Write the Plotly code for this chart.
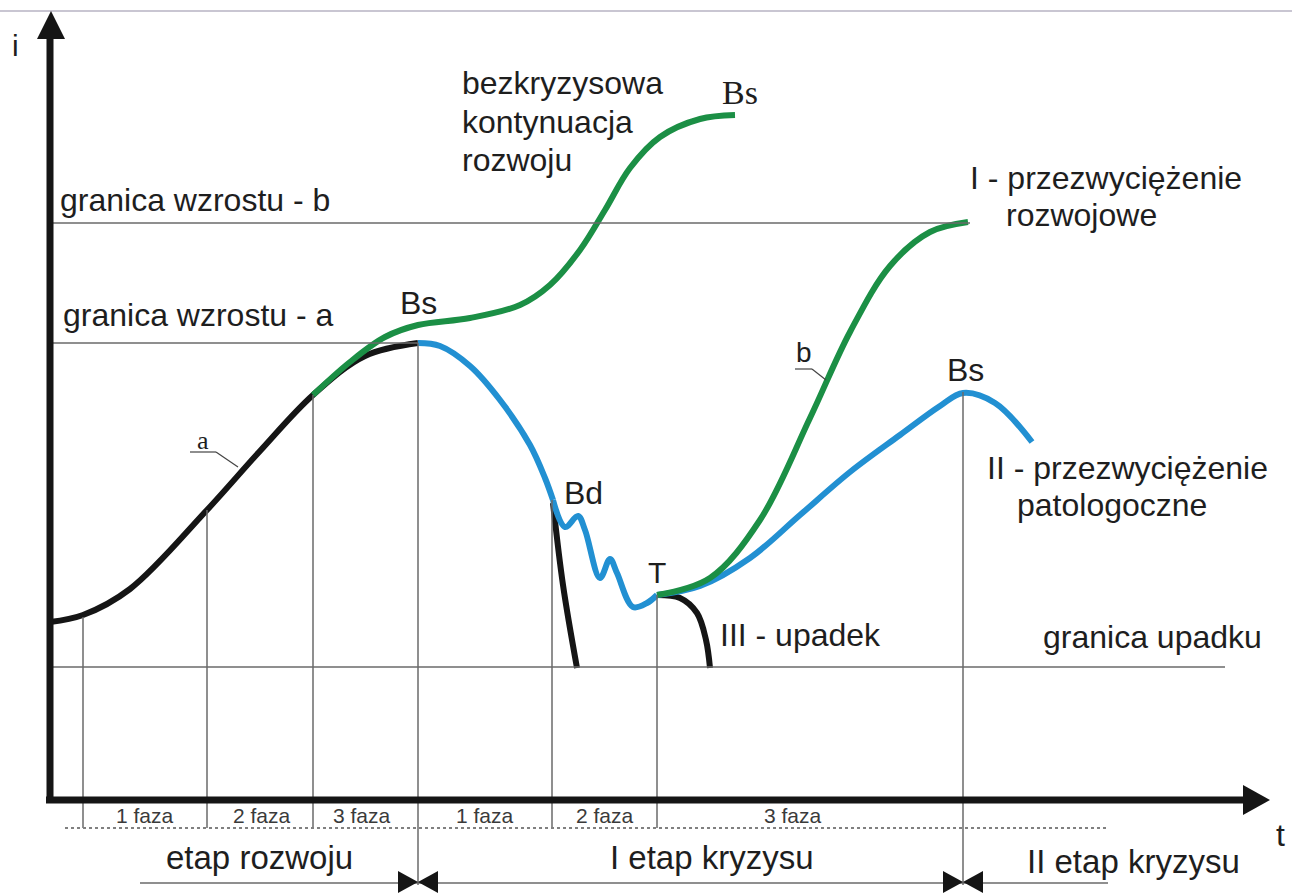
import plotly.graph_objects as go

W, H = 1292, 893

# ---- curves (picture coordinates) ----
a_x = [50, 83, 130, 207, 260, 313, 365, 418]
a_y = [622, 615, 589, 510, 451, 395, 356, 343]

cont_x = [313, 350, 385, 418, 470, 520, 550, 580, 605, 630, 660, 700, 735]
cont_y = [395, 362, 337, 325, 318, 305, 285, 250, 210, 168, 137, 119, 115]

fall_x = [418, 440, 470, 500, 530, 545, 553]
fall_y = [343, 346, 366, 400, 445, 478, 500]

wig_x = [553, 565, 578, 585, 600, 610, 617, 633, 647, 657]
wig_y = [500, 527, 516, 530, 578, 559, 573, 607, 603, 595]

bd_x = [553, 563, 577]
bd_y = [503, 585, 668]

up_x = [657, 680, 697, 706, 710]
up_y = [595, 598, 613, 640, 668]

g1_x = [657, 710, 760, 810, 850, 890, 930, 968]
g1_y = [595, 578, 520, 418, 332, 266, 232, 222]

b2_x = [657, 700, 750, 800, 850, 900, 940, 963, 995, 1032]
b2_y = [595, 586, 558, 515, 472, 435, 406, 393, 403, 442]

# ---- reference lines ----
level_names = ["granica wzrostu - b", "granica wzrostu - a", "granica upadku"]
level_y = [223, 343, 667]
level_x_end = [970, 418, 1225]

phase_x = [83, 207, 313, 418, 552, 657, 963]
phase_top = [617, 510, 395, 343, 500, 595, 392]
phase_bottom = [828, 828, 828, 885, 828, 828, 885]
phase_labels = ["1 faza", "2 faza", "3 faza", "1 faza", "2 faza", "3 faza"]
phase_label_x = [145, 262, 362, 485, 605, 793]

stage_labels = ["etap rozwoju", "I etap kryzysu", "II etap kryzysu"]
stage_x = [259, 712, 1133]
stage_y = [857, 857, 861]
bowtie_x = [418, 963]

BLACK = "#151515"
GREEN = "#1b8f45"
BLUE = "#2290d2"
GRAY = "#6a6a6a"
TXT = "#1e1e1e"
SANS = "Liberation Sans, Arial, sans-serif"
SERIF = "Liberation Serif, Times New Roman, serif"

fig = go.Figure()


def curve(x, y, color, w=6):
    fig.add_trace(go.Scatter(x=x, y=y, mode="lines", line=dict(color=color, width=w, shape="spline", smoothing=1.0),
                             hoverinfo="skip", showlegend=False))


shapes = []
shapes.append(dict(type="line", x0=0, x1=W, y0=11, y1=11, line=dict(color="#c9c6d2", width=2)))
for y, xe in zip(level_y, level_x_end):
    shapes.append(dict(type="line", x0=50, x1=xe, y0=y, y1=y, line=dict(color=GRAY, width=1.5)))
for x, t, b in zip(phase_x, phase_top, phase_bottom):
    shapes.append(dict(type="line", x0=x, x1=x, y0=t, y1=b, line=dict(color=GRAY, width=1.5)))
shapes.append(dict(type="line", x0=65, x1=1107, y0=828, y1=828, line=dict(color="#808080", width=2, dash="dot")))
shapes.append(dict(type="line", x0=140, x1=1108, y0=883, y1=883, line=dict(color=GRAY, width=1.5)))
for bx in bowtie_x:
    shapes.append(dict(type="path", path=f"M {bx-20} 871 L {bx} 882 L {bx-20} 893 Z", fillcolor=BLACK, line=dict(width=0)))
    shapes.append(dict(type="path", path=f"M {bx+20} 871 L {bx} 882 L {bx+20} 893 Z", fillcolor=BLACK, line=dict(width=0)))
shapes.append(dict(type="line", x0=50, x1=50, y0=803, y1=30, line=dict(color=BLACK, width=7)))
shapes.append(dict(type="line", x0=46, x1=1250, y0=800, y1=800, line=dict(color=BLACK, width=7)))
shapes.append(dict(type="path", path="M 37 39 L 51 11 L 65 39 Z", fillcolor=BLACK, line=dict(width=0)))
shapes.append(dict(type="path", path="M 1243 785 L 1270 800 L 1243 815 Z", fillcolor=BLACK, line=dict(width=0)))
shapes.append(dict(type="line", x0=190, x1=216, y0=452, y1=452, line=dict(color="#444", width=1.2)))
shapes.append(dict(type="line", x0=216, x1=238, y0=452, y1=467, line=dict(color="#444", width=1.2)))
shapes.append(dict(type="line", x0=795, x1=812, y0=369, y1=369, line=dict(color="#444", width=1.2)))
shapes.append(dict(type="line", x0=812, x1=826, y0=369, y1=380, line=dict(color="#444", width=1.2)))

curve(a_x, a_y, BLACK)
curve(cont_x, cont_y, GREEN)
curve(fall_x, fall_y, BLUE)
curve(bd_x, bd_y, BLACK)
curve(wig_x, wig_y, BLUE)
curve(up_x, up_y, BLACK)
curve(b2_x, b2_y, BLUE)
curve(g1_x, g1_y, GREEN)

ann = []


def txt(s, x, y, size=32, xa="left", fam=SANS, color=TXT):
    ann.append(dict(text=s, x=x, y=y, xref="x", yref="y", showarrow=False, xanchor=xa, yanchor="middle",
                    font=dict(family=fam, size=size, color=color)))


txt("i", 15, 45, 30, "center")
txt("t", 1280, 835, 32, "center")
txt(level_names[0], 58, 200)
txt(level_names[1], 61, 315)
txt(level_names[2], 1041, 637)
txt("Bs", 418, 303, 32, "center")
txt("bezkryzysowa", 460, 83)
txt("kontynuacja", 460, 122)
txt("rozwoju", 460, 160)
txt("Bs", 740, 92, 34, "center", SERIF)
txt("I - przezwyciężenie", 968, 178)
txt("rozwojowe", 1004, 215)
txt("b", 804, 352, 28, "center")
txt("Bs", 965, 370, 32, "center")
txt("II - przezwyciężenie", 985, 468)
txt("patologoczne", 1015, 505)
txt("Bd", 562, 493)
txt("T", 657, 572, 30, "center")
txt("III - upadek", 718, 635)
txt("a", 203, 440, 26, "center", SERIF)
for s, x in zip(phase_labels, phase_label_x):
    txt(s, x, 815, 21, "center", SANS, "#3a3a3a")
for s, x, y in zip(stage_labels, stage_x, stage_y):
    txt(s, x, y, 33, "center")

fig.update_layout(
    width=W, height=H, margin=dict(l=0, r=0, t=0, b=0),
    paper_bgcolor="white", plot_bgcolor="white",
    xaxis=dict(range=[0, W], visible=False, fixedrange=True),
    yaxis=dict(range=[H, 0], visible=False, fixedrange=True),
    shapes=shapes, annotations=ann, showlegend=False,
)
fig.write_html("out.html", config={"displayModeBar": False},
               post_script="document.body.style.margin='0';document.body.style.overflow='hidden';")
